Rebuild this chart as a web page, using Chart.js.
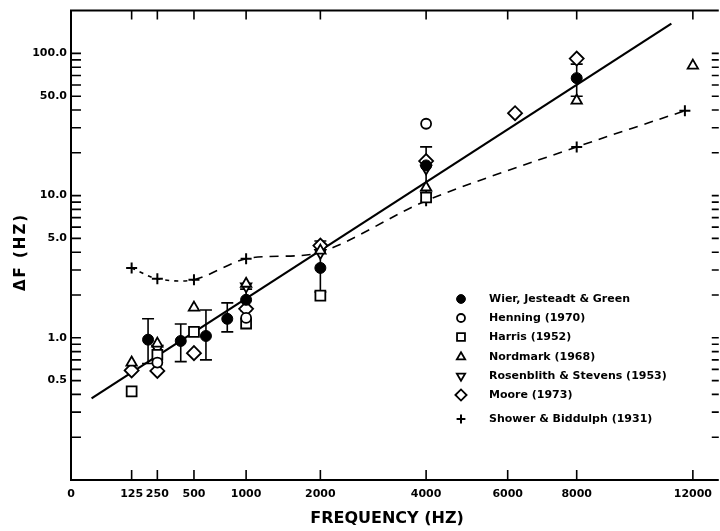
<!DOCTYPE html>
<html>
<head>
<meta charset="utf-8">
<script src="https://cdn.jsdelivr.net/npm/chart.js@4.4.0/dist/chart.umd.min.js"></script>
<style>
html, body { margin: 0; padding: 0; background: #fff; }
canvas { display: block; }
</style>
</head>
<body>
<canvas id="dfChart" width="720" height="531"></canvas>
<script>
var X_TICKS = [0, 125, 250, 500, 1000, 2000, 4000, 6000, 8000, 12000];
var Y_TICKS = [0.5, 1, 5, 10, 50, 100];

var wierFreq = [200, 400, 600, 800, 1000, 2000, 4000, 8000];
var wierDf = [0.97, 0.95, 1.03, 1.36, 1.85, 3.1, 16.3, 67];
var wierHi = [1.36, 1.25, 1.57, 1.76, 2.2, 4.8, 22, 84];
var wierLo = [0.66, 0.68, 0.70, 1.10, 1.55, 2.1, 10.5, 50];

var henningFreq = [250, 1000, 4000];
var henningDf = [0.67, 1.38, 32];

var harrisFreq = [125, 250, 500, 1000, 2000, 4000];
var harrisDf = [0.42, 0.76, 1.1, 1.26, 1.98, 9.7];

var nordmarkFreq = [125, 250, 500, 1000, 2000, 4000, 8000, 12000];
var nordmarkDf = [0.67, 0.91, 1.63, 2.4, 4.1, 11.4, 46.6, 82];

var rosenFreq = [250, 1000, 2000, 4000];
var rosenDf = [0.84, 2.3, 3.95, 15.5];

var mooreFreq = [125, 250, 500, 1000, 2000, 4000, 6200, 8000];
var mooreDf = [0.59, 0.585, 0.78, 1.6, 4.45, 17.5, 38, 92];

var showerFreq = [125, 250, 500, 1000, 2000, 4000, 8000, 11700];
var showerDf = [3.1, 2.6, 2.56, 3.6, 4.0, 9.2, 22, 39.5];

var fitFreq = [15, 11200];
var fitDf = [0.375, 162];

// frequency axis of the figure is roughly square-root spaced
function sx(f) {
	return Math.pow(f, 0.51);
}

function pts(fs, vs) {
	return fs.map(function (f, i) {
		return { x: sx(f), y: vs[i] };
	});
}

function openSet(label, fs, vs, style, radius, rotation) {
	return {
		label: label,
		data: pts(fs, vs),
		pointStyle: style,
		pointRadius: radius,
		pointRotation: rotation || 0,
		pointBorderWidth: 1.8,
		pointBackgroundColor: "#fff",
		pointBorderColor: "#000",
	};
}

var figurePlugin = {
	id: "figure",
	beforeDatasetsDraw: function (chart) {
		var ctx = chart.ctx;
		var xs = chart.scales.x;
		var ys = chart.scales.y;
		ctx.save();
		ctx.strokeStyle = "#000";
		ctx.lineWidth = 1.6;
		wierFreq.forEach(function (f, i) {
			var px = xs.getPixelForValue(sx(f));
			var top = ys.getPixelForValue(wierHi[i]);
			var bot = ys.getPixelForValue(wierLo[i]);
			ctx.beginPath();
			ctx.moveTo(px, top);
			ctx.lineTo(px, bot);
			ctx.moveTo(px - 6, top);
			ctx.lineTo(px + 6, top);
			ctx.moveTo(px - 6, bot);
			ctx.lineTo(px + 6, bot);
			ctx.stroke();
		});
		ctx.restore();
	},
	afterDraw: function (chart) {
		var ctx = chart.ctx;
		var a = chart.chartArea;
		var xs = chart.scales.x;
		var ys = chart.scales.y;
		ctx.save();
		ctx.strokeStyle = "#000";
		ctx.fillStyle = "#000";

		// frame (right edge falls off the page)
		ctx.lineWidth = 2;
		ctx.beginPath();
		ctx.moveTo(a.right, a.top);
		ctx.lineTo(a.left, a.top);
		ctx.lineTo(a.left, a.bottom);
		ctx.lineTo(a.right, a.bottom);
		ctx.stroke();

		// inward tick marks
		ctx.lineWidth = 1.6;
		ctx.beginPath();
		X_TICKS.forEach(function (f) {
			if (!f) return;
			var px = xs.getPixelForValue(sx(f));
			ctx.moveTo(px, a.top);
			ctx.lineTo(px, a.top + 9);
			ctx.moveTo(px, a.bottom);
			ctx.lineTo(px, a.bottom - 10);
		});
		for (var d = 0.1; d < 150; d *= 10) {
			for (var m = 1; m <= 9; m++) {
				var v = d * m;
				if (v < 0.15 || v > 101) continue;
				var py = ys.getPixelForValue(v);
				ctx.moveTo(a.left, py);
				ctx.lineTo(a.left + 10, py);
				ctx.moveTo(a.right, py);
				ctx.lineTo(a.right - 7, py);
			}
		}
		ctx.stroke();

		// axis titles
		ctx.font = "bold 16px 'DejaVu Sans'";
		ctx.textAlign = "center";
		ctx.textBaseline = "middle";
		ctx.fillText("FREQUENCY (HZ)", 387, 519);
		ctx.save();
		ctx.translate(21, 252);
		ctx.rotate(-Math.PI / 2);
		ctx.font = "bold 15px 'DejaVu Sans'";
		ctx.letterSpacing = "2px";
		ctx.fillText("\u0394F (HZ)", 0, 0);
		ctx.restore();

		// legend
		ctx.font = "bold 11px 'DejaVu Sans'";
		ctx.textAlign = "left";
		var rowY = [299, 318, 337, 357, 376, 395, 419];
		var row = 0;
		chart.data.datasets.forEach(function (ds) {
			if (!ds.label) return;
			var y = rowY[row++];
			ctx.fillStyle = ds.pointBackgroundColor;
			ctx.strokeStyle = "#000";
			ctx.lineWidth = ds.pointBorderWidth;
			Chart.helpers.drawPoint(ctx, {
				pointStyle: ds.pointStyle,
				radius: ds.pointRadius * 0.8,
				rotation: ds.pointRotation,
				borderWidth: ds.pointBorderWidth,
			}, 461, y);
			ctx.fillStyle = "#000";
			ctx.fillText(ds.label, 489, y);
		});
		ctx.restore();
	},
};

var dfCanvas = document.getElementById("dfChart").getContext("2d");

var dfChart = new Chart(dfCanvas, {
	type: "scatter",
	data: {
		datasets: [
			{
				label: "Wier, Jesteadt & Green",
				data: pts(wierFreq, wierDf),
				pointStyle: "circle",
				pointRadius: 5.5,
				pointRotation: 0,
				pointBorderWidth: 1,
				pointBackgroundColor: "#000",
				pointBorderColor: "#000",
			},
			openSet("Henning (1970)", henningFreq, henningDf, "circle", 5),
			openSet("Harris (1952)", harrisFreq, harrisDf, "rect", 7),
			openSet("Nordmark (1968)", nordmarkFreq, nordmarkDf, "triangle", 6),
			openSet("Rosenblith & Stevens (1953)", rosenFreq, rosenDf, "triangle", 6, 180),
			openSet("Moore (1973)", mooreFreq, mooreDf, "rectRot", 7),
			{
				label: "Shower & Biddulph (1931)",
				data: pts(showerFreq, showerDf),
				showLine: true,
				tension: 0.3,
				borderColor: "#000",
				borderWidth: 1.6,
				segment: {
					borderDash: function (c) {
						return c.p0DataIndex < 2 ? [4, 5] : [9, 7];
					},
				},
				pointStyle: "cross",
				pointRadius: 5.5,
				pointRotation: 0,
				pointBorderWidth: 2,
				pointBackgroundColor: "#000",
				pointBorderColor: "#000",
			},
			{
				data: pts(fitFreq, fitDf),
				showLine: true,
				borderColor: "#000",
				borderWidth: 2.2,
				pointRadius: 0,
			},
		],
	},
	options: {
		responsive: false,
		animation: false,
		layout: { autoPadding: false, padding: { top: 8, right: 0, bottom: 0, left: 0 } },
		plugins: {
			legend: { display: false },
			tooltip: { enabled: false },
		},
		scales: {
			x: {
				type: "linear",
				min: 0,
				max: sx(13000),
				grid: { display: false, drawTicks: false },
				border: { display: false },
				afterFit: function (s) {
					s.height = 51;
				},
				afterBuildTicks: function (s) {
					s.ticks = X_TICKS.map(function (f) {
						return { value: sx(f) };
					});
				},
				ticks: {
					autoSkip: false,
					maxRotation: 0,
					padding: 8,
					color: "#000",
					font: { family: "DejaVu Sans", size: 11, weight: "bold" },
					callback: function (value, index) {
						return String(X_TICKS[index]);
					},
				},
			},
			y: {
				type: "logarithmic",
				min: 0.1,
				max: 200,
				grid: { display: false, drawTicks: false },
				border: { display: false },
				afterFit: function (s) {
					s.width = 71;
				},
				afterBuildTicks: function (s) {
					s.ticks = Y_TICKS.map(function (v) {
						return { value: v };
					});
				},
				ticks: {
					padding: 4,
					color: "#000",
					font: { family: "DejaVu Sans", size: 11, weight: "bold" },
					callback: function (value) {
						return Number(value).toFixed(1);
					},
				},
			},
		},
	},
	plugins: [figurePlugin],
});
</script>
</body>
</html>
